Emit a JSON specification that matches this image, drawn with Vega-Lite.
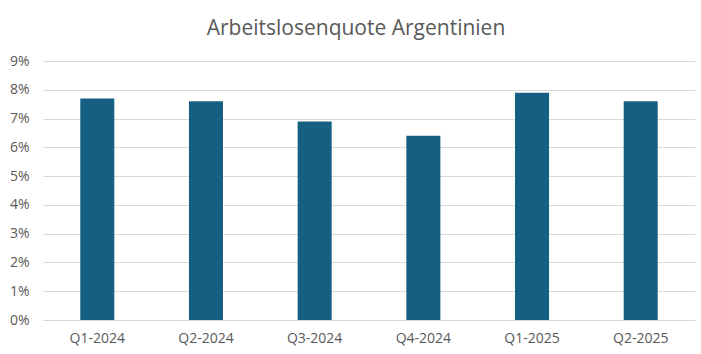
{
  "$schema": "https://vega.github.io/schema/vega-lite/v6.json",
  "autosize": {"type": "none"},
  "padding": {"left": 43, "top": 61, "right": 6, "bottom": 34},
  "width": 652,
  "height": 259,
  "background": "white",
  "title": {
    "text": "Arbeitslosenquote Argentinien",
    "anchor": "middle",
    "fontSize": 21,
    "font": "Open Sans",
    "fontWeight": "normal",
    "color": "#595959",
    "offset": 15,
    "dx": -13
  },
  "data": {
    "values": [
      {"q": "Q1-2024", "v": 0.077},
      {"q": "Q2-2024", "v": 0.076},
      {"q": "Q3-2024", "v": 0.069},
      {"q": "Q4-2024", "v": 0.064},
      {"q": "Q1-2025", "v": 0.079},
      {"q": "Q2-2025", "v": 0.076}
    ]
  },
  "mark": {"type": "bar", "color": "#156082"},
  "encoding": {
    "x": {
      "field": "q",
      "type": "nominal",
      "sort": null,
      "title": null,
      "scale": {"paddingInner": 0.687, "paddingOuter": 0.343},
      "axis": {
        "labelAngle": 0,
        "ticks": false,
        "domainColor": "#D9D9D9",
        "labelColor": "#595959",
        "labelFont": "Open Sans",
        "labelFontSize": 14,
        "labelPadding": 11
      }
    },
    "y": {
      "field": "v",
      "type": "quantitative",
      "title": null,
      "scale": {"domain": [0, 0.09]},
      "axis": {
        "format": ".0%",
        "values": [0, 0.01, 0.02, 0.03, 0.04, 0.05, 0.06, 0.07, 0.08, 0.09],
        "labelOverlap": false,
        "domain": false,
        "ticks": false,
        "gridColor": "#D9D9D9",
        "labelColor": "#595959",
        "labelFont": "Open Sans",
        "labelFontSize": 14,
        "labelPadding": 14
      }
    }
  },
  "config": {"view": {"stroke": null}}
}
